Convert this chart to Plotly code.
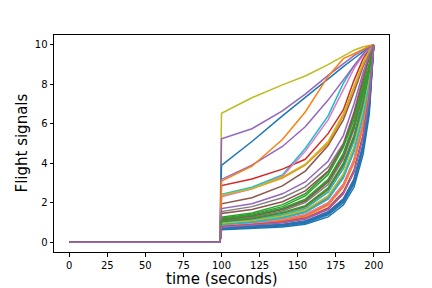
import plotly.graph_objects as go

# time grid
PRE_TIMES = [0, 99]
PRE_VALUES = [0.0, 0.0]
POST_TIMES = [100, 120, 140, 155, 170, 180, 187, 193, 197, 200]

# signal values at POST_TIMES, one list per flight (plot order)
s00 = [0.63, 0.69, 0.77, 0.91, 1.28, 1.88, 2.78, 4.45, 6.45, 10]
s01 = [0.86, 0.97, 1.16, 1.40, 2.00, 2.95, 4.20, 6.05, 7.75, 10]
s02 = [1.27, 1.48, 1.90, 2.45, 3.55, 4.95, 6.40, 8.00, 9.05, 10]
s03 = [0.75, 0.85, 0.98, 1.17, 1.66, 2.45, 3.55, 5.35, 7.25, 10]
s04 = [0.72, 0.80, 0.90, 1.08, 1.55, 2.20, 3.20, 4.95, 6.95, 10]
s05 = [1.94, 2.25, 2.85, 3.60, 4.90, 6.20, 7.60, 8.90, 9.60, 10]
s06 = [1.02, 1.17, 1.45, 1.78, 2.65, 3.85, 5.25, 7.05, 8.55, 10]
s07 = [1.55, 1.80, 2.25, 2.80, 3.80, 5.00, 6.60, 8.40, 9.40, 10]
s08 = [6.53, 7.32, 7.97, 8.42, 9.00, 9.45, 9.73, 9.90, 9.97, 10]
s09 = [2.42, 2.78, 3.40, 4.75, 6.40, 8.05, 8.95, 9.50, 9.82, 10]
s10 = [0.66, 0.73, 0.82, 0.96, 1.38, 2.00, 2.95, 4.70, 6.70, 10]
s11 = [2.35, 2.70, 3.25, 3.90, 5.00, 6.40, 7.80, 9.00, 9.65, 10]
s12 = [1.15, 1.33, 1.68, 2.12, 3.10, 4.40, 5.90, 7.60, 8.85, 10]
s13 = [2.87, 3.20, 3.70, 4.20, 5.50, 6.70, 8.20, 9.30, 9.75, 10]
s14 = [5.24, 5.75, 6.65, 7.50, 8.45, 9.05, 9.45, 9.75, 9.92, 10]
s15 = [1.45, 1.65, 2.05, 2.60, 3.60, 4.90, 6.50, 8.30, 9.35, 10]
s16 = [2.30, 2.70, 3.35, 4.60, 6.20, 7.70, 8.80, 9.50, 9.82, 10]
s17 = [1.10, 1.28, 1.58, 2.00, 2.92, 4.22, 5.72, 7.42, 8.75, 10]
s18 = [2.38, 2.72, 3.30, 3.95, 5.10, 6.50, 7.90, 9.10, 9.70, 10]
s19 = [0.94, 1.07, 1.30, 1.60, 2.32, 3.42, 4.78, 6.58, 8.15, 10]
s20 = [3.89, 5.10, 6.40, 7.35, 8.30, 8.90, 9.31, 9.65, 9.88, 10]
s21 = [0.90, 1.02, 1.24, 1.52, 2.20, 3.28, 4.62, 6.42, 8.05, 10]
s22 = [1.22, 1.42, 1.80, 2.34, 3.42, 4.80, 6.22, 7.82, 8.95, 10]
s23 = [0.69, 0.77, 0.87, 1.03, 1.47, 2.12, 3.10, 4.85, 6.85, 10]
s24 = [3.18, 3.90, 4.85, 5.85, 7.20, 8.20, 8.95, 9.55, 9.85, 10]
s25 = [1.14, 1.32, 1.65, 2.08, 3.05, 4.35, 5.85, 7.55, 8.80, 10]
s26 = [0.93, 1.06, 1.28, 1.57, 2.28, 3.38, 4.74, 6.54, 8.10, 10]
s27 = [0.99, 1.14, 1.40, 1.72, 2.56, 3.75, 5.15, 6.95, 8.45, 10]
s28 = [1.01, 1.16, 1.44, 1.77, 2.63, 3.83, 5.23, 7.03, 8.52, 10]
s29 = [0.98, 1.12, 1.38, 1.70, 2.53, 3.72, 5.12, 6.92, 8.45, 10]
s30 = [0.68, 0.76, 0.85, 1.01, 1.44, 2.08, 3.05, 4.80, 6.80, 10]
s31 = [3.09, 3.85, 5.20, 6.60, 8.40, 9.30, 9.55, 9.80, 9.93, 10]
s32 = [1.18, 1.37, 1.72, 2.18, 3.18, 4.50, 6.00, 7.65, 8.90, 10]
s33 = [0.82, 0.93, 1.10, 1.32, 1.90, 2.84, 4.08, 5.92, 7.65, 10]
s34 = [1.70, 1.95, 2.45, 3.05, 4.10, 5.40, 7.00, 8.60, 9.50, 10]
s35 = [1.04, 1.19, 1.47, 1.80, 2.68, 3.90, 5.30, 7.10, 8.60, 10]
s36 = [0.85, 0.96, 1.14, 1.38, 1.98, 2.92, 4.18, 6.02, 7.70, 10]
s37 = [0.91, 1.04, 1.26, 1.54, 2.23, 3.32, 4.66, 6.46, 8.05, 10]
s38 = [0.95, 1.08, 1.31, 1.62, 2.35, 3.46, 4.82, 6.62, 8.20, 10]
s39 = [0.89, 1.01, 1.22, 1.50, 2.18, 3.25, 4.58, 6.38, 8.00, 10]
s40 = [0.71, 0.79, 0.89, 1.06, 1.52, 2.18, 3.18, 4.95, 6.95, 10]
s41 = [0.80, 0.91, 1.08, 1.30, 1.88, 2.80, 4.02, 5.85, 7.60, 10]
s42 = [1.06, 1.22, 1.50, 1.85, 2.75, 4.00, 5.42, 7.20, 8.65, 10]
s43 = [0.78, 0.88, 1.02, 1.22, 1.73, 2.54, 3.65, 5.45, 7.35, 10]
s44 = [0.76, 0.86, 0.99, 1.19, 1.68, 2.48, 3.58, 5.38, 7.28, 10]

SIGNALS = [s00, s01, s02, s03, s04, s05, s06, s07, s08, s09,
           s10, s11, s12, s13, s14, s15, s16, s17, s18, s19,
           s20, s21, s22, s23, s24, s25, s26, s27, s28, s29,
           s30, s31, s32, s33, s34, s35, s36, s37, s38, s39,
           s40, s41, s42, s43, s44]

X_TICKS = [0, 25, 50, 75, 100, 125, 150, 175, 200]
Y_TICKS = [0, 2, 4, 6, 8, 10]
X_TITLE = "time (seconds)"
Y_TITLE = "Flight signals"

COLORS = ["#1f77b4", "#ff7f0e", "#2ca02c", "#d62728", "#9467bd",
          "#8c564b", "#e377c2", "#7f7f7f", "#bcbd22", "#17becf"]

fig = go.Figure()
for i, vals in enumerate(SIGNALS):
    fig.add_trace(go.Scatter(
        x=PRE_TIMES + POST_TIMES,
        y=PRE_VALUES + vals,
        mode="lines",
        line=dict(color=COLORS[i % len(COLORS)], width=1.5),
        showlegend=False,
        hoverinfo="skip",
    ))

axis_common = dict(
    showline=True, linecolor="black", linewidth=1, mirror=True,
    ticks="outside", ticklen=3.5, tickwidth=1, tickcolor="black",
    showgrid=False, zeroline=False, automargin=False,
    tickfont=dict(family="DejaVu Sans", size=10, color="black"),
)

# page body has an 8px margin, so the figure is 8px smaller on each axis
fig.update_layout(
    width=424, height=280,
    margin=dict(l=46, r=43, t=27, b=36),
    paper_bgcolor="white", plot_bgcolor="white",
    font=dict(family="DejaVu Sans", color="black"),
    xaxis=dict(range=[-10, 210], tickvals=X_TICKS, **axis_common),
    yaxis=dict(range=[-0.5, 10.5], tickvals=Y_TICKS, **axis_common),
    annotations=[
        dict(text=X_TITLE, xref="paper", yref="paper", x=0.5, y=0,
             xanchor="center", yanchor="middle", yshift=-27, showarrow=False,
             font=dict(family="DejaVu Sans", size=15, color="black")),
        dict(text=Y_TITLE, xref="paper", yref="paper", x=0, y=0.5,
             xanchor="center", yanchor="middle", xshift=-33, textangle=-90,
             showarrow=False,
             font=dict(family="DejaVu Sans", size=15, color="black")),
    ],
)

fig.write_html("out.html")
